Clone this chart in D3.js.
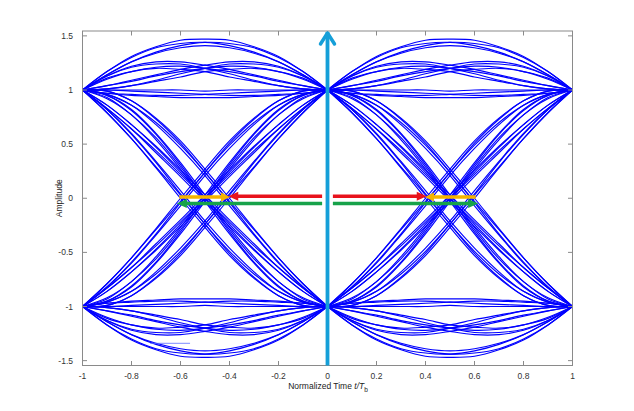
<!DOCTYPE html>
<html><head><meta charset="utf-8">
<script src="https://cdn.jsdelivr.net/npm/d3@7"></script>
<style>body{margin:0;background:#fff}svg{display:block}</style>
</head><body>
<svg id="chart" width="634" height="411"></svg>
<script>
// ---- DATA ----
// Sample positions inside one bit interval (fraction of the interval)
const uSamples = [0, 0.1, 0.2, 0.3, 0.4, 0.5, 0.6, 0.7, 0.8, 0.9, 1];
// Interval start offsets (normalized time) where the segments are repeated
const intervalStarts = [-1, 0];
// Segments staying at +1 (values at uSamples)
const highTraces = [
  [1, 1.00, 1.00, 1.00, 1.00, 0.99, 1.00, 1.00, 1.00, 1.00, 1],
  [1, 1.00, 0.99, 0.98, 0.97, 0.96, 0.95, 0.95, 0.96, 0.97, 1],
  [1, 1.04, 1.09, 1.14, 1.19, 1.23, 1.26, 1.26, 1.22, 1.13, 1],
  [1, 1.04, 1.08, 1.13, 1.17, 1.20, 1.22, 1.21, 1.17, 1.11, 1],
  [1, 1.13, 1.22, 1.26, 1.26, 1.23, 1.19, 1.14, 1.09, 1.04, 1],
  [1, 1.13, 1.21, 1.24, 1.24, 1.20, 1.15, 1.09, 1.04, 1.01, 1],
  [1, 1.17, 1.31, 1.40, 1.46, 1.47, 1.46, 1.40, 1.31, 1.17, 1],
  [1, 1.17, 1.30, 1.39, 1.43, 1.44, 1.41, 1.35, 1.26, 1.14, 1],
  [1, 0.97, 0.96, 0.95, 0.95, 0.96, 0.97, 0.98, 0.99, 1.00, 1],
  [1, 0.97, 0.95, 0.94, 0.93, 0.93, 0.93, 0.94, 0.95, 0.97, 1],
  [1, 1.01, 1.04, 1.09, 1.15, 1.20, 1.24, 1.24, 1.21, 1.13, 1],
  [1, 1.01, 1.04, 1.08, 1.12, 1.17, 1.19, 1.20, 1.17, 1.10, 1],
  [1, 1.11, 1.17, 1.21, 1.22, 1.20, 1.17, 1.13, 1.08, 1.04, 1],
  [1, 1.10, 1.17, 1.20, 1.19, 1.17, 1.12, 1.08, 1.04, 1.01, 1],
  [1, 1.14, 1.26, 1.35, 1.41, 1.44, 1.43, 1.39, 1.30, 1.17, 1],
  [1, 1.14, 1.26, 1.34, 1.39, 1.41, 1.39, 1.34, 1.26, 1.14, 1]
];
// Segments staying at -1
const lowTraces = [
  [-1, -1.00, -1.00, -1.00, -1.00, -0.99, -1.00, -1.00, -1.00, -1.00, -1],
  [-1, -1.00, -0.99, -0.98, -0.97, -0.96, -0.95, -0.95, -0.96, -0.97, -1],
  [-1, -1.04, -1.09, -1.14, -1.19, -1.23, -1.26, -1.26, -1.22, -1.13, -1],
  [-1, -1.04, -1.08, -1.13, -1.17, -1.20, -1.22, -1.21, -1.17, -1.11, -1],
  [-1, -1.13, -1.22, -1.26, -1.26, -1.23, -1.19, -1.14, -1.09, -1.04, -1],
  [-1, -1.13, -1.21, -1.24, -1.24, -1.20, -1.15, -1.09, -1.04, -1.01, -1],
  [-1, -1.17, -1.31, -1.40, -1.46, -1.47, -1.46, -1.40, -1.31, -1.17, -1],
  [-1, -1.17, -1.30, -1.39, -1.43, -1.44, -1.41, -1.35, -1.26, -1.14, -1],
  [-1, -0.97, -0.96, -0.95, -0.95, -0.96, -0.97, -0.98, -0.99, -1.00, -1],
  [-1, -0.97, -0.95, -0.94, -0.93, -0.93, -0.93, -0.94, -0.95, -0.97, -1],
  [-1, -1.01, -1.04, -1.09, -1.15, -1.20, -1.24, -1.24, -1.21, -1.13, -1],
  [-1, -1.01, -1.04, -1.08, -1.12, -1.17, -1.19, -1.20, -1.17, -1.10, -1],
  [-1, -1.11, -1.17, -1.21, -1.22, -1.20, -1.17, -1.13, -1.08, -1.04, -1],
  [-1, -1.10, -1.17, -1.20, -1.19, -1.17, -1.12, -1.08, -1.04, -1.01, -1],
  [-1, -1.14, -1.26, -1.35, -1.41, -1.44, -1.43, -1.39, -1.30, -1.17, -1],
  [-1, -1.14, -1.26, -1.34, -1.39, -1.41, -1.39, -1.34, -1.26, -1.14, -1]
];
// Falling segments (+1 -> -1)
const fallTraces = [
  [1, 0.82, 0.60, 0.34, 0.07, -0.21, -0.46, -0.68, -0.86, -0.96, -1],
  [1, 0.82, 0.59, 0.33, 0.04, -0.24, -0.51, -0.73, -0.90, -0.99, -1],
  [1, 0.86, 0.68, 0.48, 0.26, 0.03, -0.20, -0.42, -0.64, -0.83, -1],
  [1, 0.86, 0.68, 0.47, 0.24, 0.00, -0.24, -0.47, -0.68, -0.86, -1],
  [1, 0.95, 0.82, 0.60, 0.33, 0.03, -0.27, -0.54, -0.77, -0.92, -1],
  [1, 0.95, 0.81, 0.59, 0.31, 0.00, -0.31, -0.59, -0.81, -0.95, -1],
  [1, 0.99, 0.90, 0.74, 0.53, 0.27, 0.00, -0.28, -0.55, -0.79, -1],
  [1, 0.99, 0.90, 0.73, 0.51, 0.24, -0.04, -0.33, -0.59, -0.82, -1],
  [1, 0.79, 0.55, 0.29, 0.03, -0.24, -0.49, -0.70, -0.86, -0.96, -1],
  [1, 0.79, 0.55, 0.28, 0.00, -0.27, -0.53, -0.74, -0.90, -0.99, -1],
  [1, 0.83, 0.64, 0.44, 0.22, 0.00, -0.22, -0.44, -0.64, -0.83, -1],
  [1, 0.83, 0.64, 0.42, 0.20, -0.03, -0.26, -0.48, -0.68, -0.86, -1],
  [1, 0.93, 0.77, 0.56, 0.29, 0.00, -0.29, -0.56, -0.77, -0.93, -1],
  [1, 0.92, 0.77, 0.54, 0.27, -0.03, -0.33, -0.60, -0.82, -0.95, -1],
  [1, 0.96, 0.86, 0.70, 0.49, 0.24, -0.03, -0.29, -0.55, -0.79, -1],
  [1, 0.96, 0.86, 0.68, 0.46, 0.21, -0.07, -0.34, -0.60, -0.82, -1]
];
// Rising segments (-1 -> +1)
const riseTraces = [
  [-1, -0.82, -0.60, -0.34, -0.07, 0.21, 0.46, 0.68, 0.86, 0.96, 1],
  [-1, -0.82, -0.59, -0.33, -0.04, 0.24, 0.51, 0.73, 0.90, 0.99, 1],
  [-1, -0.86, -0.68, -0.48, -0.26, -0.03, 0.20, 0.42, 0.64, 0.83, 1],
  [-1, -0.86, -0.68, -0.47, -0.24, 0.00, 0.24, 0.47, 0.68, 0.86, 1],
  [-1, -0.95, -0.82, -0.60, -0.33, -0.03, 0.27, 0.54, 0.77, 0.92, 1],
  [-1, -0.95, -0.81, -0.59, -0.31, 0.00, 0.31, 0.59, 0.81, 0.95, 1],
  [-1, -0.99, -0.90, -0.74, -0.53, -0.27, 0.00, 0.28, 0.55, 0.79, 1],
  [-1, -0.99, -0.90, -0.73, -0.51, -0.24, 0.04, 0.33, 0.59, 0.82, 1],
  [-1, -0.79, -0.55, -0.29, -0.03, 0.24, 0.49, 0.70, 0.86, 0.96, 1],
  [-1, -0.79, -0.55, -0.28, 0.00, 0.27, 0.53, 0.74, 0.90, 0.99, 1],
  [-1, -0.83, -0.64, -0.44, -0.22, 0.00, 0.22, 0.44, 0.64, 0.83, 1],
  [-1, -0.83, -0.64, -0.42, -0.20, 0.03, 0.26, 0.48, 0.68, 0.86, 1],
  [-1, -0.93, -0.77, -0.56, -0.29, 0.00, 0.29, 0.56, 0.77, 0.93, 1],
  [-1, -0.92, -0.77, -0.54, -0.27, 0.03, 0.33, 0.60, 0.82, 0.95, 1],
  [-1, -0.96, -0.86, -0.70, -0.49, -0.24, 0.03, 0.29, 0.55, 0.79, 1],
  [-1, -0.96, -0.86, -0.68, -0.46, -0.21, 0.07, 0.34, 0.60, 0.82, 1]
];
// Short faint stray stroke in the lower-left eye
const strayStroke = [[-0.724, -1.34], [-0.561, -1.34]];
// Annotation arrows: [from t, to t (tip), amplitude]
const redArrows    = [[-0.022, -0.405, 0.018], [0.022, 0.405, 0.018]];
const yellowArrows = [[-0.605, -0.398, 0.012], [0.605, 0.398, 0.012]];
const greenArrows  = [[-0.022, -0.615, -0.049], [0.022, 0.615, -0.049]];
const centerArrow  = [0, -1.545, 1.545];
// Axis ticks
const xTicks = [-1, -0.8, -0.6, -0.4, -0.2, 0, 0.2, 0.4, 0.6, 0.8, 1];
const yTicks = [-1.5, -1, -0.5, 0, 0.5, 1, 1.5];
const xDomain = [-1, 1];
const yDomain = [-1.545, 1.545];

// ---- CHART ----
const svg = d3.select('#chart');
const x = d3.scaleLinear().domain(xDomain).range([82.5, 572.5]);
const y = d3.scaleLinear().domain(yDomain).range([365.5, 31]);
const font = "'Liberation Sans', Arial, Helvetica, sans-serif";

const line = d3.line().x(d => x(d[0])).y(d => y(d[1])).curve(d3.curveCatmullRom.alpha(0.5));
const traceG = svg.append('g').attr('fill', 'none').attr('stroke', '#0000ff').attr('stroke-width', 1.15);
const allTraces = [...highTraces, ...lowTraces, ...fallTraces, ...riseTraces];
intervalStarts.forEach(t0 => {
  allTraces.forEach(tr => {
    traceG.append('path').attr('d', line(tr.map((v, i) => [t0 + uSamples[i], v])));
  });
});
svg.append('path').attr('d', d3.line().x(d => x(d[0])).y(d => y(d[1]))(strayStroke))
  .attr('stroke', '#5a6cff').attr('stroke-width', 0.8).attr('fill', 'none');

// Frame and ticks (mirrored, inward)
const frameColor = '#8a8a8a';
const axG = svg.append('g');
axG.append('rect').attr('x', x(-1)).attr('y', y(yDomain[1]))
  .attr('width', x(1) - x(-1)).attr('height', y(yDomain[0]) - y(yDomain[1]))
  .attr('fill', 'none').attr('stroke', frameColor).attr('stroke-width', 1);
const tl = 4.5;
xTicks.forEach(t => {
  axG.append('line').attr('x1', x(t)).attr('x2', x(t)).attr('y1', y(yDomain[0])).attr('y2', y(yDomain[0]) - tl).attr('stroke', frameColor);
  axG.append('line').attr('x1', x(t)).attr('x2', x(t)).attr('y1', y(yDomain[1])).attr('y2', y(yDomain[1]) + tl).attr('stroke', frameColor);
  axG.append('text').attr('x', x(t)).attr('y', 378.5).attr('text-anchor', 'middle')
    .attr('font-family', font).attr('font-size', 8.5).attr('fill', '#333').text(String(t));
});
yTicks.forEach(v => {
  axG.append('line').attr('x1', x(-1)).attr('x2', x(-1) + tl).attr('y1', y(v)).attr('y2', y(v)).attr('stroke', frameColor);
  axG.append('line').attr('x1', x(1)).attr('x2', x(1) - tl).attr('y1', y(v)).attr('y2', y(v)).attr('stroke', frameColor);
  axG.append('text').attr('x', 73).attr('y', y(v) + 3).attr('text-anchor', 'end')
    .attr('font-family', font).attr('font-size', 8.5).attr('fill', '#333').text(String(v));
});
const xl = axG.append('text').attr('x', 328).attr('y', 389).attr('text-anchor', 'middle')
  .attr('font-family', font).attr('font-size', 8.5).attr('fill', '#222');
xl.append('tspan').text('Normalized Time ');
xl.append('tspan').attr('font-style', 'italic').text('t/T');
xl.append('tspan').attr('font-size', 6.5).attr('dy', 2.5).text('b');
axG.append('text').attr('transform', `translate(62,${y(0)}) rotate(-90)`).attr('text-anchor', 'middle')
  .attr('font-family', font).attr('font-size', 8.5).attr('fill', '#222').text('Amplitude');

// Arrows
function hArrow(a, color, w, headLen, headHalf) {
  const [t1, t2, v] = a;
  const dir = Math.sign(x(t2) - x(t1));
  const xt = x(t2), yy = y(v);
  svg.append('line').attr('x1', x(t1)).attr('x2', xt - dir * headLen * 0.8).attr('y1', yy).attr('y2', yy)
    .attr('stroke', color).attr('stroke-width', w);
  svg.append('path').attr('d', `M${xt},${yy} L${xt - dir * headLen},${yy - headHalf} L${xt - dir * headLen},${yy + headHalf} Z`)
    .attr('fill', color);
}
// center cyan arrow
const cx = x(centerArrow[0]);
svg.append('line').attr('x1', cx).attr('x2', cx).attr('y1', y(centerArrow[1])).attr('y2', y(centerArrow[2]) + 1)
  .attr('stroke', '#159fd8').attr('stroke-width', 3.8);
svg.append('path').attr('d', `M${cx - 7},${y(centerArrow[2]) + 13} L${cx},${y(centerArrow[2]) + 2} L${cx + 7},${y(centerArrow[2]) + 13}`)
  .attr('fill', 'none').attr('stroke', '#159fd8').attr('stroke-width', 3.5).attr('stroke-linecap', 'round').attr('stroke-linejoin', 'round');
greenArrows.forEach(a => hArrow(a, '#17a24a', 3.4, 10, 4.5));
yellowArrows.forEach(a => hArrow(a, '#f5b400', 3.4, 9, 4.5));
redArrows.forEach(a => hArrow(a, '#e8121c', 3.4, 10, 4.5));
</script>
</body></html>
